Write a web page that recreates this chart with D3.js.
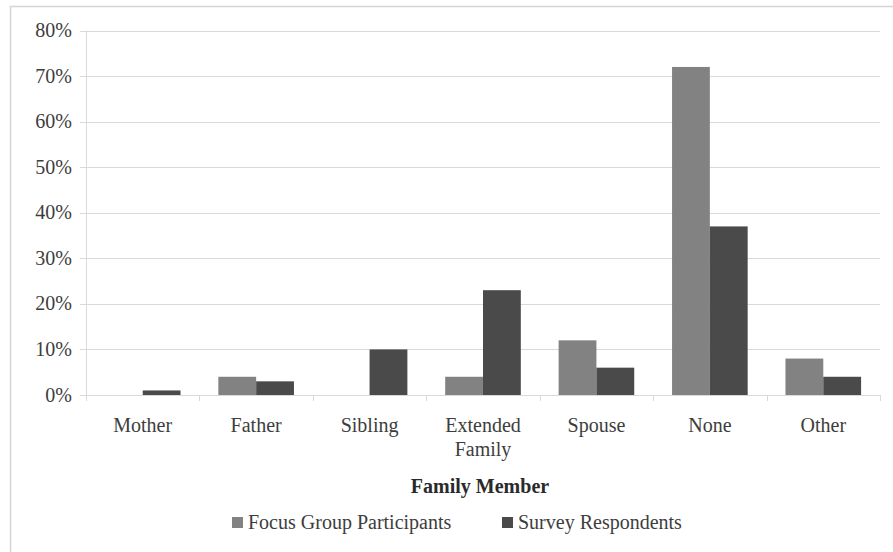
<!DOCTYPE html>
<html><head><meta charset="utf-8">
<script src="https://cdn.jsdelivr.net/npm/d3@7"></script>
<style>body{margin:0;background:#fff}svg{display:block}</style>
</head><body>
<script>
const categories = ["Mother","Father","Sibling","Extended Family","Spouse","None","Other"];
const seriesNames = ["Focus Group Participants","Survey Respondents"];
const focusGroup = [0, 4, 0, 4, 12, 72, 8];
const survey = [1, 3, 10, 23, 6, 37, 4];
const yTicks = [0,10,20,30,40,50,60,70,80];
const colors = ["#828282","#4a4a4a"];

(function(){
const W=893,H=552;
const svg=d3.select("body").append("svg").attr("width",W).attr("height",H);
const font="'Liberation Serif', 'DejaVu Serif', serif";
const fs=20;
const pLeft=86,pRight=880,pTop=30.5,pBottom=395;

// outer border
svg.append("rect").attr("x",10.5).attr("y",6.5).attr("width",W+20).attr("height",H+20)
  .attr("fill","none").attr("stroke","#d4d4d4").attr("stroke-width",1.5);

const x=d3.scaleBand().domain(categories).range([pLeft,pRight]);
const x1=d3.scaleBand().domain(seriesNames).range([0,x.bandwidth()]).paddingOuter(0.5);
const y=d3.scaleLinear().domain([0,80]).range([pBottom,pTop]);

// grid
svg.append("g").selectAll("line").data(yTicks).join("line")
  .attr("x1",80).attr("x2",pRight).attr("y1",d=>Math.round(y(d))+0.5).attr("y2",d=>Math.round(y(d))+0.5)
  .attr("stroke","#d9d9d9").attr("stroke-width",1);
// y axis line
svg.append("line").attr("x1",pLeft+0.5).attr("x2",pLeft+0.5).attr("y1",pTop).attr("y2",pBottom+6)
  .attr("stroke","#d9d9d9");
// x ticks
svg.append("g").selectAll("line").data(categories.concat(["_end"])).join("line")
  .attr("x1",(d,i)=>Math.round(pLeft+i*x.bandwidth())+0.5).attr("x2",(d,i)=>Math.round(pLeft+i*x.bandwidth())+0.5)
  .attr("y1",pBottom).attr("y2",pBottom+6).attr("stroke","#d9d9d9");

// y labels
svg.append("g").selectAll("text").data(yTicks).join("text")
  .attr("x",72).attr("y",d=>y(d)).attr("dy","0.33em").attr("text-anchor","end")
  .attr("font-family",font).attr("font-size",fs).attr("fill","#3d3d3d").text(d=>d+"%");

// bars
const data=[focusGroup,survey];
data.forEach((vals,si)=>{
  svg.append("g").selectAll("rect").data(categories).join("rect")
    .attr("x",(c)=>x(c)+x1(seriesNames[si]))
    .attr("width",x1.bandwidth())
    .attr("y",(c,i)=>y(vals[i]))
    .attr("height",(c,i)=>pBottom-y(vals[i]))
    .attr("fill",colors[si]);
});

// category labels
const cl=svg.append("g").selectAll("text").data(categories).join("text")
  .attr("x",c=>x(c)+x.bandwidth()/2).attr("y",432).attr("text-anchor","middle")
  .attr("font-family",font).attr("font-size",fs).attr("fill","#3d3d3d");
cl.each(function(c){
  const words=c.split(" ");
  const t=d3.select(this);
  words.forEach((w,i)=>t.append("tspan").attr("x",x(c)+x.bandwidth()/2).attr("dy",i?23.5:0).text(w));
});

// axis title
svg.append("text").attr("x",(pLeft+pRight)/2-3).attr("y",493).attr("text-anchor","middle")
  .attr("font-family",font).attr("font-size",fs).attr("font-weight","bold").attr("fill","#2a2a2a").text("Family Member");

// legend
const legX=[232,502];
seriesNames.forEach((s,i)=>{
  svg.append("rect").attr("x",legX[i]).attr("y",517).attr("width",11).attr("height",11).attr("fill",colors[i]);
  svg.append("text").attr("x",legX[i]+16).attr("y",529).attr("font-family",font).attr("font-size",fs)
    .attr("fill","#3d3d3d").text(s);
});
})();
</script>
</body></html>
